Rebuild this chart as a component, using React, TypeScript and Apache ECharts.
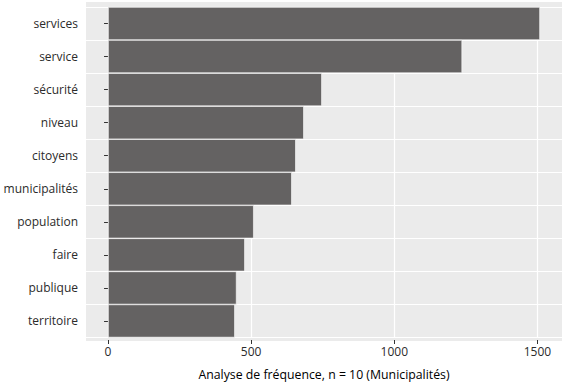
import React, { useEffect, useRef } from "react";
import * as echarts from "echarts";

const categories = [
  "services",
  "service",
  "sécurité",
  "niveau",
  "citoyens",
  "municipalités",
  "population",
  "faire",
  "publique",
  "territoire",
];
const values = [1509, 1237, 747, 684, 656, 642, 509, 478, 449, 443];
const xTicks = [0, 500, 1000, 1500];
const xTitle = "Analyse de fréquence, n = 10 (Municipalités)";

const FONT = "'Open Sans', sans-serif";

export default function App() {
  const ref = useRef<HTMLDivElement>(null);
  useEffect(() => {
    if (!ref.current) return;
    const chart = echarts.init(ref.current, undefined, { renderer: "svg" });
    chart.setOption({
      animation: false,
      backgroundColor: "#ffffff",
      graphic: [
        {
          type: "rect",
          z: -10,
          silent: true,
          shape: { x: 86, y: 2, width: 476, height: 339 },
          style: { fill: "#EBEBEB" },
        },
      ],
      grid: { left: 86, right: 0, top: 7, bottom: 46.5, containLabel: false },
      xAxis: {
        type: "value",
        min: -77,
        max: 1586,
        offset: 2.5,
        name: xTitle,
        nameLocation: "middle",
        nameGap: 28,
        nameTextStyle: { fontFamily: FONT, fontSize: 12.3, color: "#000" },
        axisLine: { show: false },
        axisTick: {
          show: true,
          length: 4,
          customValues: xTicks,
          lineStyle: { color: "#333333", width: 1 },
        },
        axisLabel: {
          customValues: xTicks,
          formatter: (v: number) => String(v),
          fontFamily: FONT,
          fontSize: 12,
          color: "#2b2b2b",
          margin: 5,
        },
        splitLine: { show: true, lineStyle: { color: "#ffffff", width: 1.2 } },
      },
      yAxis: {
        type: "category",
        data: categories,
        inverse: true,
        axisLine: { show: false },
        axisTick: {
          show: true,
          length: 4,
          alignWithLabel: true,
          lineStyle: { color: "#333333", width: 1 },
        },
        axisLabel: {
          fontFamily: FONT,
          fontSize: 12,
          color: "#2b2b2b",
          margin: 8,
        },
        splitLine: { show: true, lineStyle: { color: "#ffffff", width: 1.2 } },
      },
      series: [
        {
          type: "bar",
          data: values,
          barCategoryGap: "0%",
          itemStyle: { color: "#646262", borderColor: "#ffffff", borderWidth: 0.6 },
        },
      ],
    });
    return () => chart.dispose();
  }, []);
  return (
    <div
      ref={ref}
      style={{ position: "fixed", left: 0, top: 0, width: 562, height: 385 }}
    />
  );
}
